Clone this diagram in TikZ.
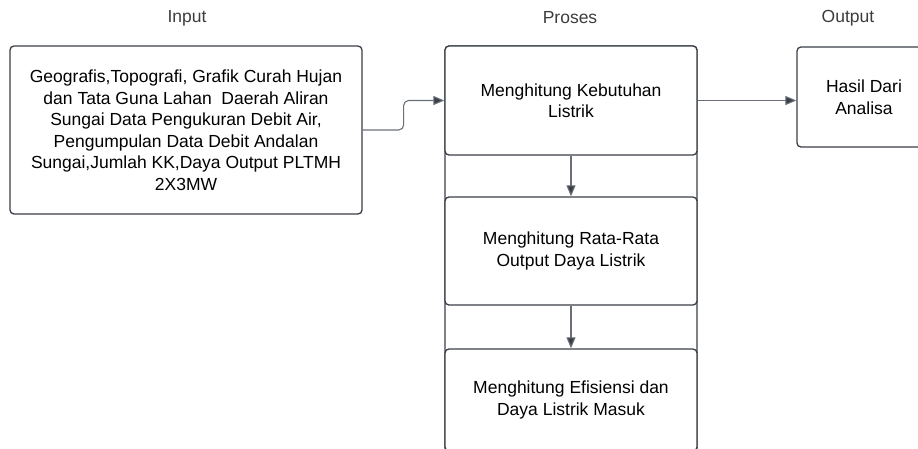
\documentclass[tikz,border=0pt]{standalone}
\usepackage{fontspec}
\setmainfont{Liberation Sans}
\usetikzlibrary{arrows.meta}
\definecolor{boxline}{HTML}{3A3F47}
\definecolor{connline}{HTML}{6B7078}
\definecolor{lblgray}{HTML}{3C3C3C}
\begin{document}
\begin{tikzpicture}[x=1pt,y=-1pt,
  box/.style={draw=boxline, line width=1.3pt, rounded corners=4pt, align=center,
    font=\fontsize{17.5}{21.5}\selectfont, inner sep=0pt, fill=white},
  lbl/.style={text=lblgray, font=\fontsize{17.5}{21}\selectfont},
  conn/.style={draw=connline, line width=1.1pt, -{Triangle[length=11pt,width=9pt,fill=boxline]}, rounded corners=5pt}]
\useasboundingbox (0,0) rectangle (918,448);
\clip (0,0) rectangle (918,448);
% column labels
\node[lbl] (linput) at (187,18) {Input};
\node[lbl] (lproses) at (570,18) {Proses};
\node[lbl] (loutput) at (848,18) {Output};
% process lane
\draw[draw=boxline, line width=1.3pt, rounded corners=4pt] (445,46) rectangle (697,452);
% boxes
\node[box, minimum width=352pt, minimum height=168pt] (in) at (186,130)
  {Geografis,Topografi, Grafik Curah Hujan\\dan Tata Guna Lahan\ \ Daerah Aliran\\Sungai Data Pengukuran Debit Air,\\Pengumpulan Data Debit Andalan\\Sungai,Jumlah KK,Daya Output PLTMH\\2X3MW};
\node[box, minimum width=252pt, minimum height=109pt] (b1) at (571,100.5)
  {Menghitung Kebutuhan\\Listrik};
\node[box, minimum width=252pt, minimum height=108pt] (b2) at (571,251)
  {Menghitung Rata-Rata\\Output Daya Listrik};
\node[box, minimum width=252pt, minimum height=102pt] (b3) at (571,400)
  {Menghitung Efisiensi dan\\Daya Listrik Masuk};
\node[box, minimum width=134pt, minimum height=100pt] (out) at (864,97)
  {Hasil Dari\\Analisa};
% connectors
\draw[conn] (in.east) -- ++(41,0) |- (b1.west);
\draw[conn] (b1.south) -- (b2.north);
\draw[conn] (b2.south) -- (b3.north);
\draw[conn] (b1.east) -- (b1.east -| out.west);
\end{tikzpicture}
\end{document}
